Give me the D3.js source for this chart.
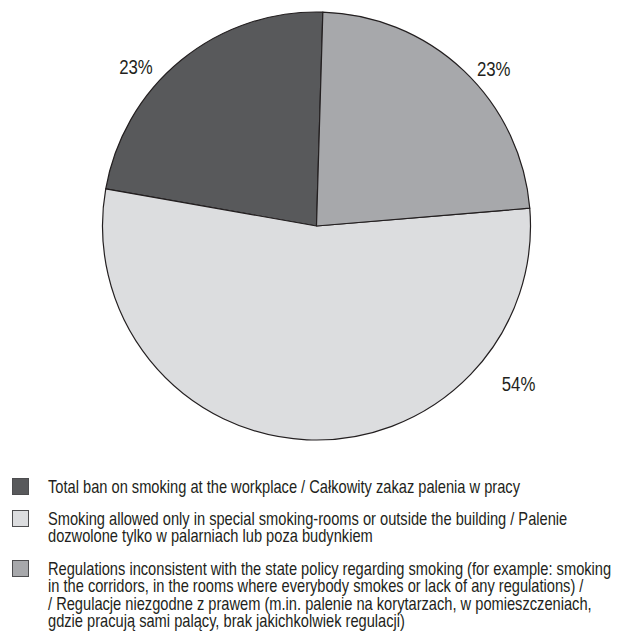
<!DOCTYPE html>
<meta charset="utf-8">
<style>
  body { margin: 0; background: #fff; }
  text { font-family: "Liberation Sans", Arial, sans-serif; fill: #231f20; }
</style>
<body>
<script src="https://cdn.jsdelivr.net/npm/d3@7"></script>
<script>

    // shares (dark, light, medium)
    var categories = ["ban", "rooms", "inconsistent"];
    var values = [22.7, 54.1, 23.2];
    var colors = ["#58595b", "#dcdddf", "#a7a8ab"];
    var legendLabels = [
        ["Total ban on smoking at the workplace / Całkowity zakaz palenia w pracy"],
        ["Smoking allowed only in special smoking-rooms or outside the building / Palenie",
         "dozwolone tylko w palarniach lub poza budynkiem"],
        ["Regulations inconsistent with the state policy regarding smoking (for example: smoking",
         "in the corridors, in the rooms where everybody smokes or lack of any regulations) /",
         "/ Regulacje niezgodne z prawem (m.in. palenie na korytarzach, w pomieszczeniach,",
         "gdzie pracują sami palący, brak jakichkolwiek regulacji)"]
    ];

    // where the percentage labels sit (degrees clockwise from top, radius)
    var labelAngles = [-48.5, 127.9, 48.4];
    var labelRadii = [241, 256, 237];

    var w = 629, h = 639;
    var cx = 316.5, cy = 226, r = 214;
    var narrow = 0.8;   // fake a condensed face

    var svg = d3.select("body")
            .append("svg")
            .attr("width", w)
            .attr("height", h);

    var start = 1.7 * Math.PI / 180;
    var pie = d3.pie()
            .sort(null)
            .startAngle(start)
            .endAngle(start - 2 * Math.PI);

    var arc = d3.arc().innerRadius(0).outerRadius(r);

    var g = svg.append("g").attr("transform", "translate(" + cx + "," + cy + ")");

    g.selectAll("path")
            .data(pie(values))
            .enter()
            .append("path")
            .attr("d", arc)
            .attr("fill", function(d, i) { return colors[i]; })
            .attr("stroke", "#231f20")
            .attr("stroke-width", 1.2)
            .attr("stroke-linejoin", "round");

    g.selectAll("text.pct")
            .data(values)
            .enter()
            .append("text")
            .attr("class", "pct")
            .attr("transform", function(d, i) {
                var a = labelAngles[i] * Math.PI / 180;
                return "translate(" + (labelRadii[i] * Math.sin(a)) + "," + (-labelRadii[i] * Math.cos(a)) + ") scale(" + narrow + ",1)";
            })
            .attr("dy", "0.36em")
            .attr("text-anchor", "middle")
            .style("font-size", "21px")
            .text(function(d) { return Math.round(d) + "%"; });

    // legend
    var legendTop = [478, 510, 560];
    var lineH = 17.6;

    var leg = svg.selectAll("g.leg")
            .data(categories)
            .enter()
            .append("g")
            .attr("class", "leg")
            .attr("transform", function(d, i) { return "translate(0," + legendTop[i] + ")"; });

    leg.append("rect")
            .attr("x", 12.5)
            .attr("y", 0.5)
            .attr("width", 16)
            .attr("height", 16)
            .attr("fill", function(d, i) { return colors[i]; })
            .attr("stroke", "#4d4d4f")
            .attr("stroke-width", 1);

    var texts = [];
    leg.each(function(d, i) {
        var t = d3.select(this).append("text")
                .attr("transform", "translate(48,14.5) scale(" + narrow + ",1)")
                .style("font-size", "17.5px");
        t.selectAll("tspan")
                .data(legendLabels[i])
                .enter()
                .append("tspan")
                .attr("x", 0)
                .attr("dy", function(s, j) { return j ? lineH : 0; })
                .text(function(s) { return s; });
        texts.push(t);
    });

    // squeeze so the longest line ends near the right edge
    var widest = d3.max(texts, function(t) { return t.node().getBBox().width; });
    var sx = 563 / widest;
    texts.forEach(function(t) {
        t.attr("transform", "translate(48,14.5) scale(" + sx + ",1)");
    });

</script>
